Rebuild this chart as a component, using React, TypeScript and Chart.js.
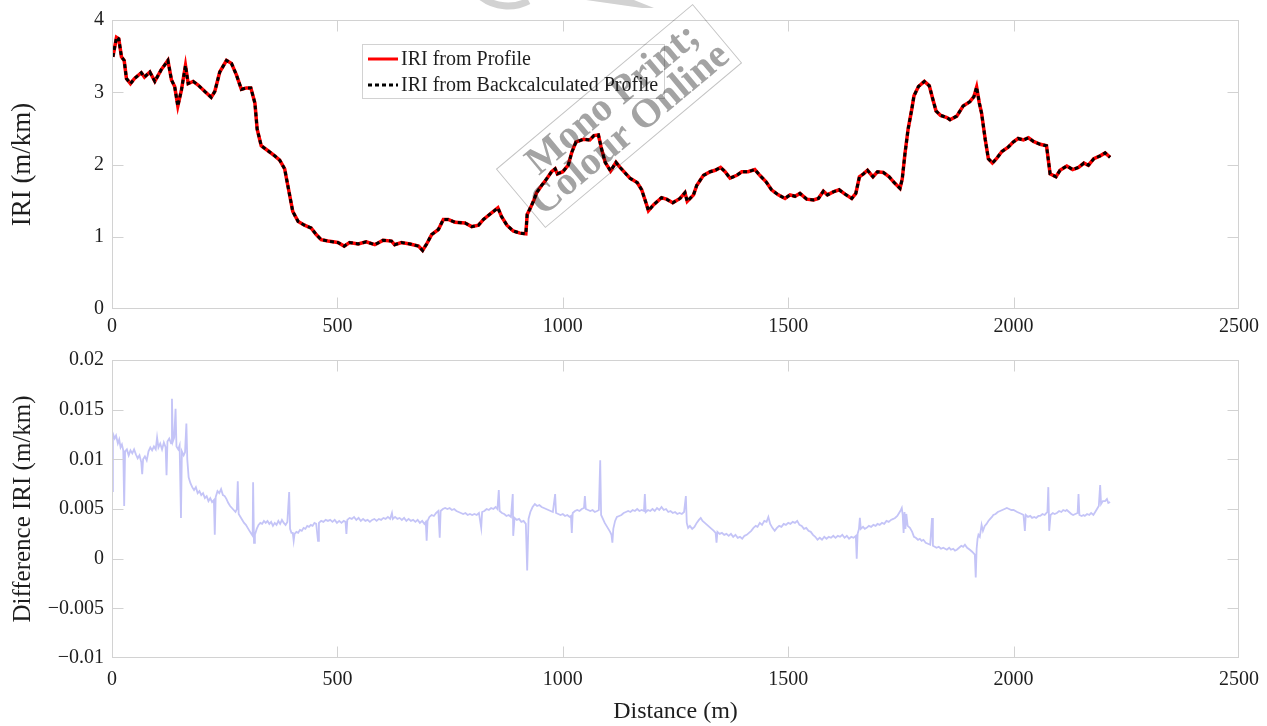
import React, { useEffect, useRef } from "react";
import { Chart, registerables } from "chart.js";

Chart.register(...registerables);
Chart.defaults.font.family = '"Liberation Serif", "Times New Roman", serif';

// ---------- tick values ----------
const xTicks = [0, 500, 1000, 1500, 2000, 2500];
const iriTicks = [0, 1, 2, 3, 4];
const diffTicks = [-0.01, -0.005, 0, 0.005, 0.01, 0.015, 0.02];

// ---------- top panel: IRI (m/km) vs distance (m) ----------
const iriDistance = [
  2, 10, 15, 21, 27, 32, 41, 50, 65, 72, 84, 95, 109, 124, 132, 139, 146, 154, 163, 169,
  180, 191, 206, 220, 228, 239, 254, 265, 276, 287, 298, 308, 317, 322, 331, 346, 361, 372, 383, 390,
  401, 413, 427, 442, 453, 464, 479, 501, 515, 527, 546, 564, 583, 601, 620, 627, 642, 661, 680, 689,
  698, 709, 724, 735, 746, 761, 783, 798, 813, 824, 842, 856, 864, 876, 890, 905, 918, 921, 929, 936,
  942, 953, 964, 975, 983, 988, 1000, 1012, 1020, 1029, 1046, 1060, 1069, 1079, 1085, 1094, 1106, 1118, 1127, 1149,
  1165, 1175, 1185, 1190, 1201, 1219, 1230, 1244, 1260, 1271, 1276, 1290, 1297, 1312, 1327, 1338, 1350, 1360, 1371, 1386,
  1397, 1411, 1426, 1437, 1451, 1463, 1478, 1493, 1504, 1515, 1526, 1541, 1556, 1567, 1578, 1587, 1600, 1613, 1626, 1641,
  1650, 1658, 1667, 1676, 1688, 1698, 1711, 1724, 1735, 1748, 1753, 1759, 1766, 1774, 1779, 1789, 1802, 1813, 1821, 1828,
  1838, 1852, 1859, 1874, 1888, 1903, 1912, 1918, 1924, 1929, 1937, 1944, 1953, 1962, 1974, 1988, 1999, 2010, 2022, 2033,
  2044, 2059, 2073, 2081, 2094, 2103, 2118, 2131, 2144, 2156, 2166, 2178, 2192, 2203, 2214,
];
const iriProfile = [
  3.49, 3.76, 3.74, 3.49, 3.44, 3.19, 3.12, 3.19, 3.27, 3.21, 3.28, 3.15, 3.31, 3.44, 3.17, 3.08, 2.81, 3.03, 3.37, 3.12,
  3.15, 3.10, 3.01, 2.93, 3.01, 3.28, 3.44, 3.40, 3.24, 3.04, 3.06, 3.06, 2.85, 2.49, 2.26, 2.19, 2.12, 2.06, 1.94, 1.71,
  1.35, 1.21, 1.16, 1.12, 1.03, 0.96, 0.94, 0.92, 0.87, 0.92, 0.90, 0.93, 0.89, 0.95, 0.94, 0.89, 0.92, 0.90, 0.87, 0.81,
  0.90, 1.03, 1.10, 1.24, 1.24, 1.20, 1.19, 1.14, 1.16, 1.24, 1.33, 1.40, 1.28, 1.16, 1.08, 1.05, 1.04, 1.31, 1.41, 1.51,
  1.61, 1.71, 1.80, 1.90, 1.94, 1.87, 1.90, 1.99, 2.17, 2.31, 2.35, 2.34, 2.40, 2.41, 2.24, 2.03, 1.91, 2.03, 1.96, 1.81,
  1.75, 1.65, 1.46, 1.36, 1.44, 1.54, 1.52, 1.47, 1.53, 1.61, 1.49, 1.58, 1.71, 1.85, 1.90, 1.92, 1.96, 1.90, 1.81, 1.85,
  1.90, 1.90, 1.93, 1.85, 1.76, 1.65, 1.58, 1.53, 1.58, 1.56, 1.60, 1.52, 1.51, 1.53, 1.63, 1.58, 1.62, 1.65, 1.59, 1.53,
  1.60, 1.83, 1.87, 1.92, 1.83, 1.90, 1.89, 1.83, 1.75, 1.67, 1.80, 2.15, 2.49, 2.76, 2.95, 3.08, 3.15, 3.09, 2.90, 2.74,
  2.68, 2.65, 2.62, 2.67, 2.81, 2.87, 2.94, 3.07, 2.85, 2.71, 2.35, 2.08, 2.02, 2.08, 2.18, 2.24, 2.31, 2.36, 2.34, 2.37,
  2.32, 2.28, 2.26, 1.87, 1.83, 1.92, 1.98, 1.93, 1.96, 2.02, 1.99, 2.08, 2.12, 2.16, 2.10,
];
// the back-calculated profile gives the same IRI to within a few thousandths
const iriBackcalc = [
  3.49, 3.76, 3.74, 3.49, 3.44, 3.19, 3.12, 3.19, 3.27, 3.21, 3.28, 3.15, 3.31, 3.44, 3.17, 3.08, 2.81, 3.03, 3.37, 3.12,
  3.15, 3.10, 3.01, 2.93, 3.01, 3.28, 3.44, 3.40, 3.24, 3.04, 3.06, 3.06, 2.85, 2.49, 2.26, 2.19, 2.12, 2.06, 1.94, 1.71,
  1.35, 1.21, 1.16, 1.12, 1.03, 0.96, 0.94, 0.92, 0.87, 0.92, 0.90, 0.93, 0.89, 0.95, 0.94, 0.89, 0.92, 0.90, 0.87, 0.81,
  0.90, 1.03, 1.10, 1.24, 1.24, 1.20, 1.19, 1.14, 1.16, 1.24, 1.33, 1.40, 1.28, 1.16, 1.08, 1.05, 1.04, 1.31, 1.41, 1.51,
  1.61, 1.71, 1.80, 1.90, 1.94, 1.87, 1.90, 1.99, 2.17, 2.31, 2.35, 2.34, 2.40, 2.41, 2.24, 2.03, 1.91, 2.03, 1.96, 1.81,
  1.75, 1.65, 1.46, 1.36, 1.44, 1.54, 1.52, 1.47, 1.53, 1.61, 1.49, 1.58, 1.71, 1.85, 1.90, 1.92, 1.96, 1.90, 1.81, 1.85,
  1.90, 1.90, 1.93, 1.85, 1.76, 1.65, 1.58, 1.53, 1.58, 1.56, 1.60, 1.52, 1.51, 1.53, 1.63, 1.58, 1.62, 1.65, 1.59, 1.53,
  1.60, 1.83, 1.87, 1.92, 1.83, 1.90, 1.89, 1.83, 1.75, 1.67, 1.80, 2.15, 2.49, 2.76, 2.95, 3.08, 3.15, 3.09, 2.90, 2.74,
  2.68, 2.65, 2.62, 2.67, 2.81, 2.87, 2.94, 3.07, 2.85, 2.71, 2.35, 2.08, 2.02, 2.08, 2.18, 2.24, 2.31, 2.36, 2.34, 2.37,
  2.32, 2.28, 2.26, 1.87, 1.83, 1.92, 1.98, 1.93, 1.96, 2.02, 1.99, 2.08, 2.12, 2.16, 2.10,
];

// ---------- bottom panel: difference IRI (m/km) vs distance (m) ----------
const diffDistance = [
  0, 2, 6, 9, 13, 16, 19, 22, 25, 27, 29, 33, 37, 41, 45, 49, 53, 57, 61, 65,
  67, 69, 73, 77, 81, 85, 89, 93, 97, 100, 103, 107, 111, 115, 119, 121, 123, 127, 131, 133,
  135, 138, 141, 143, 147, 150, 153, 155, 159, 162, 165, 167, 170, 174, 178, 182, 186, 190, 194, 198,
  202, 206, 210, 214, 218, 222, 226, 228, 230, 234, 238, 242, 246, 250, 254, 258, 262, 266, 270, 274,
  277, 279, 281, 285, 289, 293, 297, 301, 305, 309, 312, 313, 315, 317, 321, 325, 329, 333, 337, 341,
  345, 349, 353, 357, 361, 365, 369, 373, 377, 381, 385, 389, 393, 395, 398, 401, 403, 405, 409, 413,
  417, 421, 425, 429, 433, 437, 441, 445, 449, 453, 457, 459, 464, 469, 474, 479, 484, 489, 494, 499,
  504, 509, 514, 518, 520, 522, 527, 532, 537, 542, 547, 552, 557, 562, 567, 572, 577, 582, 587, 592,
  597, 602, 607, 612, 617, 621, 623, 628, 633, 638, 643, 648, 653, 658, 663, 668, 673, 678, 683, 688,
  693, 696, 698, 700, 704, 709, 714, 719, 724, 727, 729, 734, 739, 744, 749, 754, 759, 764, 769, 774,
  779, 784, 789, 794, 799, 804, 809, 814, 819, 821, 826, 831, 836, 841, 846, 851, 855, 858, 860, 865,
  870, 875, 880, 885, 889, 890, 893, 898, 903, 908, 913, 918, 921, 924, 928, 933, 938, 943, 948, 953,
  958, 963, 968, 973, 978, 983, 985, 990, 995, 1000, 1005, 1010, 1015, 1018, 1020, 1022, 1027, 1032, 1037, 1042,
  1047, 1049, 1051, 1056, 1061, 1066, 1071, 1076, 1080, 1083, 1085, 1089, 1093, 1097, 1101, 1105, 1108, 1110, 1112, 1116,
  1120, 1125, 1130, 1135, 1140, 1145, 1150, 1155, 1160, 1165, 1170, 1175, 1180, 1182, 1184, 1189, 1194, 1199, 1204, 1209,
  1214, 1219, 1224, 1229, 1234, 1239, 1244, 1249, 1254, 1259, 1264, 1269, 1273, 1275, 1278, 1282, 1287, 1292, 1297, 1302,
  1306, 1310, 1315, 1320, 1325, 1330, 1335, 1339, 1341, 1343, 1348, 1353, 1358, 1363, 1368, 1373, 1378, 1383, 1388, 1393,
  1398, 1403, 1408, 1413, 1418, 1423, 1428, 1432, 1437, 1442, 1447, 1452, 1456, 1460, 1465, 1470, 1475, 1480, 1485, 1490,
  1495, 1500, 1505, 1510, 1515, 1520, 1525, 1530, 1535, 1540, 1545, 1550, 1555, 1560, 1565, 1570, 1575, 1580, 1585, 1590,
  1595, 1600, 1605, 1610, 1615, 1620, 1625, 1630, 1635, 1640, 1645, 1650, 1652, 1654, 1657, 1659, 1661, 1666, 1670, 1674,
  1679, 1684, 1689, 1694, 1698, 1703, 1708, 1713, 1718, 1723, 1728, 1733, 1737, 1742, 1746, 1750, 1752, 1754, 1756, 1758,
  1760, 1762, 1765, 1770, 1775, 1779, 1783, 1788, 1792, 1796, 1800, 1805, 1810, 1815, 1819, 1821, 1825, 1829, 1834, 1839,
  1844, 1848, 1852, 1857, 1861, 1866, 1870, 1874, 1879, 1884, 1888, 1892, 1897, 1903, 1908, 1912, 1914, 1916, 1918, 1920,
  1922, 1925, 1929, 1932, 1936, 1940, 1944, 1948, 1952, 1955, 1960, 1965, 1970, 1975, 1980, 1985, 1990, 1995, 2000, 2004,
  2008, 2013, 2018, 2022, 2025, 2027, 2032, 2037, 2041, 2046, 2050, 2055, 2059, 2064, 2069, 2073, 2075, 2077, 2079, 2082,
  2087, 2091, 2096, 2101, 2106, 2110, 2115, 2118, 2123, 2128, 2132, 2137, 2142, 2144, 2146, 2151, 2155, 2158, 2163, 2168,
  2172, 2177, 2181, 2185, 2189, 2192, 2194, 2198, 2203, 2207, 2210, 2214,
];
const diffIri = [
  0.0068, 0.0126, 0.0121, 0.0124, 0.0116, 0.0120, 0.0112, 0.0115, 0.0109, 0.0053, 0.0108, 0.0110, 0.0104, 0.0109, 0.0106, 0.0110, 0.0105, 0.0101, 0.0104, 0.0097,
  0.0085, 0.0100, 0.0103, 0.0099, 0.0108, 0.0112, 0.0109, 0.0113, 0.0110, 0.0122, 0.0112, 0.0116, 0.0110, 0.0117, 0.0112, 0.0084, 0.0118, 0.0121, 0.0116, 0.0161,
  0.0118, 0.0122, 0.0151, 0.0113, 0.0110, 0.0114, 0.0041, 0.0108, 0.0104, 0.0107, 0.0136, 0.0100, 0.0082, 0.0076, 0.0072, 0.0069, 0.0072, 0.0066, 0.0068, 0.0064,
  0.0066, 0.0061, 0.0063, 0.0058, 0.0061, 0.0057, 0.0059, 0.0024, 0.0062, 0.0068, 0.0066, 0.0070, 0.0064, 0.0063, 0.0060, 0.0056, 0.0053, 0.0051, 0.0049, 0.0047,
  0.0050, 0.0078, 0.0045, 0.0042, 0.0039, 0.0036, 0.0034, 0.0031, 0.0028, 0.0025, 0.0023, 0.0077, 0.0016, 0.0024, 0.0030, 0.0034, 0.0036, 0.0035, 0.0038, 0.0036,
  0.0038, 0.0035, 0.0037, 0.0033, 0.0036, 0.0034, 0.0038, 0.0035, 0.0039, 0.0036, 0.0034, 0.0037, 0.0067, 0.0030, 0.0026, 0.0026, 0.0018, 0.0025, 0.0027, 0.0026,
  0.0029, 0.0028, 0.0031, 0.0030, 0.0033, 0.0032, 0.0034, 0.0033, 0.0036, 0.0035, 0.0018, 0.0036, 0.0038, 0.0037, 0.0039, 0.0038, 0.0039, 0.0037, 0.0039, 0.0036,
  0.0038, 0.0036, 0.0038, 0.0037, 0.0025, 0.0039, 0.0041, 0.0040, 0.0042, 0.0039, 0.0041, 0.0038, 0.0040, 0.0038, 0.0039, 0.0037, 0.0039, 0.0040, 0.0038, 0.0040,
  0.0039, 0.0041, 0.0040, 0.0042, 0.0040, 0.0046, 0.0040, 0.0042, 0.0040, 0.0041, 0.0039, 0.0041, 0.0038, 0.0040, 0.0038, 0.0039, 0.0037, 0.0039, 0.0036, 0.0038,
  0.0035, 0.0037, 0.0018, 0.0038, 0.0042, 0.0044, 0.0043, 0.0046, 0.0048, 0.0021, 0.0048, 0.0050, 0.0051, 0.0050, 0.0051, 0.0049, 0.0050, 0.0048, 0.0047, 0.0046,
  0.0045, 0.0046, 0.0044, 0.0045, 0.0044, 0.0045, 0.0044, 0.0046, 0.0031, 0.0047, 0.0048, 0.0050, 0.0049, 0.0051, 0.0050, 0.0052, 0.0050, 0.0069, 0.0048, 0.0046,
  0.0045, 0.0043, 0.0044, 0.0042, 0.0065, 0.0023, 0.0041, 0.0039, 0.0040, 0.0037, 0.0038, 0.0035, -0.0012, 0.0040, 0.0047, 0.0052, 0.0055, 0.0053, 0.0054, 0.0052,
  0.0051, 0.0050, 0.0049, 0.0048, 0.0047, 0.0065, 0.0046, 0.0045, 0.0044, 0.0045, 0.0043, 0.0044, 0.0042, 0.0043, 0.0026, 0.0046, 0.0048, 0.0049, 0.0048, 0.0050,
  0.0051, 0.0063, 0.0050, 0.0049, 0.0048, 0.0049, 0.0047, 0.0048, 0.0049, 0.0099, 0.0044, 0.0040, 0.0036, 0.0033, 0.0030, 0.0027, 0.0024, 0.0016, 0.0030, 0.0038,
  0.0042, 0.0043, 0.0044, 0.0046, 0.0047, 0.0048, 0.0047, 0.0049, 0.0048, 0.0050, 0.0048, 0.0049, 0.0048, 0.0065, 0.0047, 0.0049, 0.0048, 0.0050, 0.0048, 0.0051,
  0.0049, 0.0052, 0.0049, 0.0050, 0.0047, 0.0048, 0.0046, 0.0047, 0.0045, 0.0046, 0.0045, 0.0047, 0.0063, 0.0036, 0.0031, 0.0033, 0.0030, 0.0032, 0.0036, 0.0039,
  0.0041, 0.0038, 0.0036, 0.0034, 0.0032, 0.0030, 0.0028, 0.0026, 0.0016, 0.0027, 0.0025, 0.0026, 0.0024, 0.0025, 0.0023, 0.0025, 0.0022, 0.0024, 0.0021, 0.0022,
  0.0020, 0.0023, 0.0024, 0.0026, 0.0028, 0.0031, 0.0033, 0.0032, 0.0036, 0.0034, 0.0038, 0.0037, 0.0042, 0.0035, 0.0031, 0.0028, 0.0031, 0.0033, 0.0032, 0.0035,
  0.0034, 0.0036, 0.0035, 0.0037, 0.0036, 0.0038, 0.0034, 0.0033, 0.0030, 0.0031, 0.0028, 0.0027, 0.0024, 0.0022, 0.0019, 0.0021, 0.0019, 0.0022, 0.0020, 0.0022,
  0.0021, 0.0023, 0.0021, 0.0023, 0.0022, 0.0024, 0.0021, 0.0023, 0.0020, 0.0022, 0.0021, 0.0023, 0.0000, 0.0025, 0.0030, 0.0041, 0.0030, 0.0032, 0.0030, 0.0031,
  0.0033, 0.0032, 0.0034, 0.0033, 0.0035, 0.0034, 0.0036, 0.0035, 0.0038, 0.0037, 0.0039, 0.0040, 0.0041, 0.0043, 0.0046, 0.0049, 0.0051, 0.0044, 0.0026, 0.0047,
  0.0030, 0.0045, 0.0033, 0.0031, 0.0027, 0.0022, 0.0021, 0.0019, 0.0020, 0.0018, 0.0019, 0.0016, 0.0015, 0.0014, 0.0041, 0.0013, 0.0012, 0.0011, 0.0012, 0.0010,
  0.0011, 0.0010, 0.0009, 0.0011, 0.0009, 0.0010, 0.0008, 0.0009, 0.0011, 0.0013, 0.0012, 0.0014, 0.0011, 0.0009, 0.0007, 0.0005, 0.0004, -0.0019, 0.0010, 0.0020,
  0.0024, 0.0022, 0.0034, 0.0028, 0.0033, 0.0035, 0.0038, 0.0040, 0.0042, 0.0044, 0.0045, 0.0047, 0.0048, 0.0049, 0.0050, 0.0051, 0.0050, 0.0049, 0.0049, 0.0048,
  0.0047, 0.0046, 0.0045, 0.0044, 0.0028, 0.0044, 0.0042, 0.0043, 0.0041, 0.0042, 0.0041, 0.0043, 0.0043, 0.0045, 0.0044, 0.0046, 0.0047, 0.0072, 0.0028, 0.0044,
  0.0046, 0.0045, 0.0046, 0.0048, 0.0047, 0.0049, 0.0048, 0.0049, 0.0047, 0.0045, 0.0044, 0.0045, 0.0046, 0.0065, 0.0044, 0.0043, 0.0044, 0.0043, 0.0045, 0.0044,
  0.0046, 0.0044, 0.0047, 0.0050, 0.0053, 0.0074, 0.0055, 0.0058, 0.0058, 0.0060, 0.0056, 0.0057,
];

const FRAME = "#d2d2d2";
const TEXT = "#1e1e1e";

function framePlugin(xVals: number[], yVals: number[]) {
  return {
    id: "matlabFrame",
    afterDatasetsDraw(chart: any) {
      const { ctx, chartArea: a, scales } = chart;
      const L = Math.round(a.left) + 0.5;
      const R = Math.round(a.right) - 0.5;
      const T = Math.round(a.top) + 0.5;
      const B = Math.round(a.bottom) - 0.5;
      ctx.save();
      ctx.strokeStyle = FRAME;
      ctx.lineWidth = 1;
      ctx.strokeRect(L, T, R - L, B - T);
      ctx.beginPath();
      for (const v of xVals) {
        const p = Math.round(scales.x.getPixelForValue(v)) + 0.5;
        if (p <= L + 1 || p >= R - 1) continue;
        ctx.moveTo(p, B); ctx.lineTo(p, B - 11);
        ctx.moveTo(p, T); ctx.lineTo(p, T + 11);
      }
      for (const v of yVals) {
        const p = Math.round(scales.y.getPixelForValue(v)) + 0.5;
        if (p <= T + 1 || p >= B - 1) continue;
        ctx.moveTo(L, p); ctx.lineTo(L + 11, p);
        ctx.moveTo(R, p); ctx.lineTo(R - 11, p);
      }
      ctx.stroke();
      ctx.restore();
    },
  };
}

const legendPlugin = {
  id: "boxLegend",
  afterDraw(chart: any) {
    const ctx = chart.ctx;
    const ds = chart.data.datasets;
    ctx.save();
    ctx.fillStyle = "#ffffff";
    ctx.fillRect(362, 44, 303, 54);
    ctx.strokeStyle = FRAME;
    ctx.lineWidth = 1;
    ctx.strokeRect(362.5, 44.5, 302, 54);
    const rows = [
      { y: 59, ds: ds[1] },
      { y: 85, ds: ds[0] },
    ];
    ctx.font = '20px "Liberation Serif"';
    ctx.textBaseline = "middle";
    ctx.textAlign = "left";
    for (const r of rows) {
      ctx.beginPath();
      ctx.strokeStyle = r.ds.borderColor;
      ctx.lineWidth = 3;
      ctx.setLineDash(r.ds.borderDash || []);
      ctx.moveTo(368, r.y);
      ctx.lineTo(398, r.y);
      ctx.stroke();
      ctx.setLineDash([]);
      ctx.fillStyle = TEXT;
      ctx.fillText(r.ds.label, 401, r.y + 1);
    }
    ctx.restore();
  },
};

// publisher stamp, laid over everything with "multiply" so marks below stay visible
const watermarkPlugin = {
  id: "watermark",
  afterDraw(chart: any) {
    const ctx = chart.ctx;
    ctx.save();
    ctx.globalCompositeOperation = "multiply";
    // clipped parts of the publisher logo at the very top
    ctx.strokeStyle = "#d2d2d2";
    ctx.lineWidth = 7;
    ctx.beginPath();
    ctx.arc(508, -38, 44, (62 * Math.PI) / 180, (128 * Math.PI) / 180);
    ctx.stroke();
    ctx.fillStyle = "#d2d2d2";
    ctx.beginPath();
    ctx.moveTo(586, 0);
    ctx.lineTo(634, 0);
    ctx.lineTo(654, 8);
    ctx.lineTo(642, 8);
    ctx.closePath();
    ctx.fill();
    // rotated stamp
    ctx.translate(619, 116);
    ctx.rotate((-40 * Math.PI) / 180);
    ctx.strokeStyle = "#c4c4c4";
    ctx.lineWidth = 1;
    ctx.strokeRect(-128, -38, 256, 76);
    ctx.fillStyle = "#a3a3a3";
    ctx.font = 'bold 40px "Liberation Serif"';
    ctx.textAlign = "center";
    ctx.textBaseline = "middle";
    ctx.fillText("Mono Print;", 6, -16);
    ctx.fillText("Colour Online", 0, 18);
    ctx.restore();
  },
};

function fmtDiff(v: number) {
  const r = Math.round(v * 1000) / 1000;
  if (r === 0) return "0";
  return r < 0 ? "\u2212" + String(-r) : String(r);
}

const noPad = (s: any) => {
  s.paddingLeft = 0;
  s.paddingRight = 0;
};

export default function App() {
  const topRef = useRef<HTMLCanvasElement>(null);
  const botRef = useRef<HTMLCanvasElement>(null);

  useEffect(() => {
    const tickFont = { size: 20 };

    const top = new Chart(topRef.current!, {
      type: "line",
      data: {
        datasets: [
          {
            label: "IRI from Backcalculated Profile",
            data: iriDistance.map((d, i) => ({ x: d, y: iriBackcalc[i] })),
            borderColor: "#000000",
            borderWidth: 3,
            borderDash: [4, 3],
            pointRadius: 0,
            tension: 0,
            order: 0,
          },
          {
            label: "IRI from Profile",
            data: iriDistance.map((d, i) => ({ x: d, y: iriProfile[i] })),
            borderColor: "#ff0000",
            borderWidth: 3.5,
            pointRadius: 0,
            tension: 0,
            order: 1,
          },
        ],
      },
      options: {
        responsive: false,
        animation: false,
        events: [],
        layout: { padding: { top: 16, right: 28, left: 0, bottom: 0 } },
        plugins: { legend: { display: false }, tooltip: { enabled: false } },
        scales: {
          x: {
            type: "linear",
            min: 0,
            max: 2500,
            afterBuildTicks: (s: any) => { s.ticks = xTicks.map((v) => ({ value: v })); },
            afterFit: (s: any) => { s.height = 31; noPad(s); },
            grid: { display: false, drawTicks: false },
            border: { display: false },
            ticks: { padding: 6, color: TEXT, font: tickFont, maxRotation: 0, autoSkip: false, callback: (v: any) => String(v) },
          },
          y: {
            type: "linear",
            min: 0,
            max: 4,
            afterBuildTicks: (s: any) => { s.ticks = iriTicks.map((v) => ({ value: v })); },
            afterFit: (s: any) => { s.width = 112; },
            grid: { display: false, drawTicks: false },
            border: { display: false },
            ticks: { padding: 8, color: TEXT, font: tickFont, callback: (v: any) => String(v) },
            title: { display: true, text: "IRI (m/km)", color: TEXT, font: { size: 27 }, padding: { top: 7, bottom: 0 } },
          },
        },
      } as any,
      plugins: [framePlugin(xTicks, iriTicks), legendPlugin, watermarkPlugin],
    });

    const bot = new Chart(botRef.current!, {
      type: "line",
      data: {
        datasets: [
          {
            label: "Difference IRI",
            data: diffDistance.map((d, i) => ({ x: d, y: diffIri[i] })),
            borderColor: "#c4c4f7",
            borderWidth: 1.8,
            pointRadius: 0,
            tension: 0,
          },
        ],
      },
      options: {
        responsive: false,
        animation: false,
        events: [],
        layout: { padding: { top: 17, right: 28, left: 0, bottom: 0 } },
        plugins: { legend: { display: false }, tooltip: { enabled: false } },
        scales: {
          x: {
            type: "linear",
            min: 0,
            max: 2500,
            afterBuildTicks: (s: any) => { s.ticks = xTicks.map((v) => ({ value: v })); },
            afterFit: (s: any) => { s.height = 68; noPad(s); },
            grid: { display: false, drawTicks: false },
            border: { display: false },
            ticks: { padding: 10, color: TEXT, font: tickFont, maxRotation: 0, autoSkip: false, callback: (v: any) => String(v) },
            title: { display: true, text: "Distance (m)", color: TEXT, font: { size: 24 }, padding: { top: 0, bottom: 0 } },
          },
          y: {
            type: "linear",
            min: -0.01,
            max: 0.02,
            afterBuildTicks: (s: any) => { s.ticks = diffTicks.map((v) => ({ value: v })); },
            afterFit: (s: any) => { s.width = 112; },
            grid: { display: false, drawTicks: false },
            border: { display: false },
            ticks: { padding: 8, color: TEXT, font: tickFont, callback: (v: any) => fmtDiff(Number(v)) },
            title: { display: true, text: "Difference IRI (m/km)", color: TEXT, font: { size: 25 }, padding: { top: 8, bottom: 0 } },
          },
        },
      } as any,
      plugins: [framePlugin(xTicks, diffTicks)],
    });

    return () => {
      top.destroy();
      bot.destroy();
    };
  }, []);

  return (
    <div style={{ position: "absolute", left: 0, top: 0, width: 1267, height: 726, background: "#ffffff" }}>
      <canvas ref={topRef} width={1267} height={340} style={{ position: "absolute", left: 0, top: 0 }} />
      <canvas ref={botRef} width={1267} height={386} style={{ position: "absolute", left: 0, top: 340 }} />
    </div>
  );
}
